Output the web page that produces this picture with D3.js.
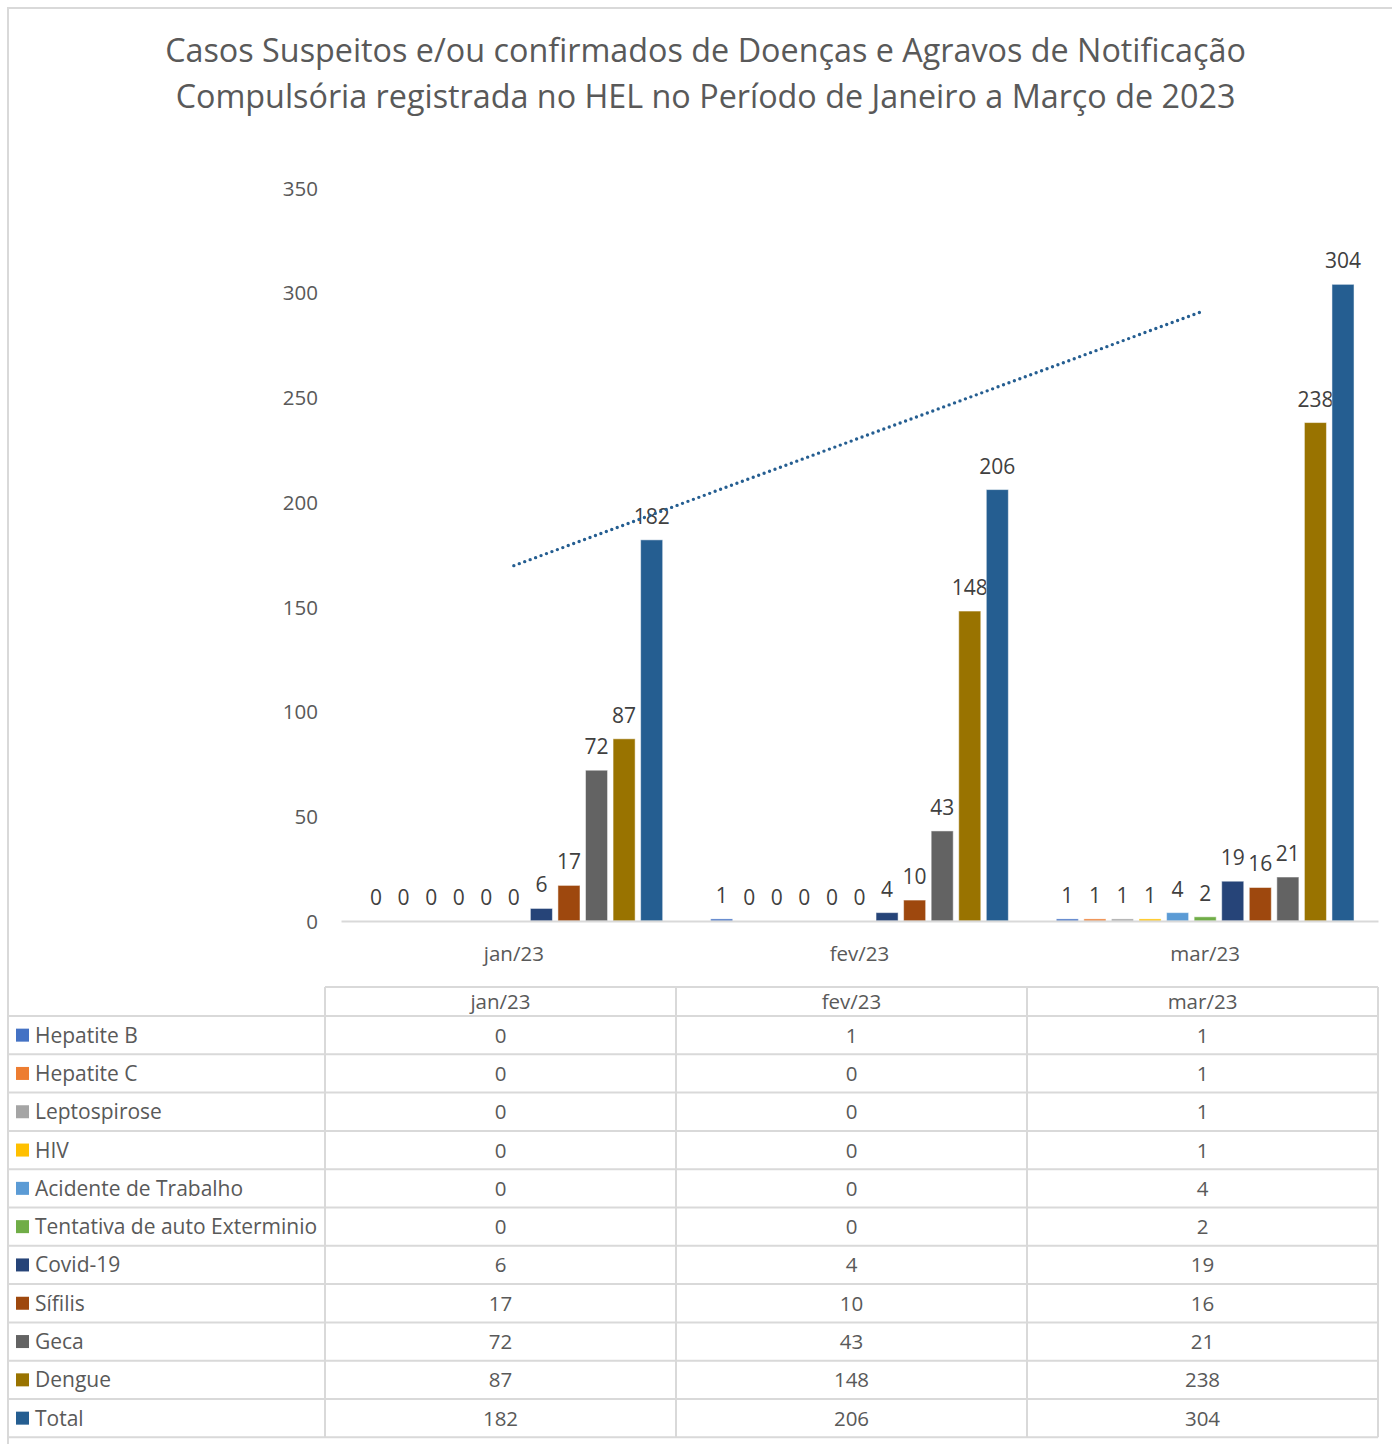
<!DOCTYPE html>
<html><head><meta charset="utf-8">
<script src="https://cdn.jsdelivr.net/npm/d3@7"></script>
<style>html,body{margin:0;padding:0;background:#fff;} svg{display:block;}</style>
</head><body>
<svg id="c" width="1392" height="1444"></svg>
<script>
const titleLines = ["Casos Suspeitos e/ou confirmados de Doenças e Agravos de Notificação",
  "Compulsória registrada no HEL no Período de Janeiro a Março de 2023"];
const categories = ["jan/23", "fev/23", "mar/23"];
const seriesNames = ["Hepatite B","Hepatite C","Leptospirose","HIV","Acidente de Trabalho",
  "Tentativa de auto Exterminio","Covid-19","Sífilis","Geca","Dengue","Total"];
const hepatiteB = [0, 1, 1];
const hepatiteC = [0, 0, 1];
const leptospirose = [0, 0, 1];
const hiv = [0, 0, 1];
const acidenteTrabalho = [0, 0, 4];
const tentativa = [0, 0, 2];
const covid = [6, 4, 19];
const sifilis = [17, 10, 16];
const geca = [72, 43, 21];
const dengue = [87, 148, 238];
const total = [182, 206, 304];
const seriesColors = ["#4472C4","#ED7D31","#A5A5A5","#FFC000","#5B9BD5","#70AD47",
  "#264478","#9E480E","#636363","#997300","#255E91"];
const yTicks = [0, 50, 100, 150, 200, 250, 300, 350];

const seriesValues = [hepatiteB, hepatiteC, leptospirose, hiv, acidenteTrabalho, tentativa,
  covid, sifilis, geca, dengue, total];
const series = seriesNames.map((n, i) => ({name: n, values: seriesValues[i], color: seriesColors[i]}));

const FONT = "'Open Sans', sans-serif";
const svg = d3.select("#c").style("font-family", FONT);

// outer border
svg.append("rect").attr("x", 8).attr("y", 8).attr("width", 1420).attr("height", 1480)
  .attr("fill", "#fff").attr("stroke", "#d9d9d9").attr("stroke-width", 2);

// title: size fitted so that line 1 spans ~1081px
const titleEls = titleLines.map((t, i) => svg.append("text").attr("x", 705.5).attr("y", [62, 108][i])
  .attr("text-anchor", "middle").attr("fill", "#595959").style("font-size", "30px").text(t));
{
  const w = titleEls[0].node().getComputedTextLength();
  const fs = 30 * 1081 / w;
  titleEls.forEach(el => el.style("font-size", fs + "px"));
}

// scales
const x = d3.scaleBand().domain(categories).range([341, 1378]);
const xs = d3.scaleBand().domain(seriesNames).range([0, x.bandwidth()]).paddingInner(0.2).paddingOuter(0.87);
const y = d3.scaleLinear().domain([0, 350]).range([921, 188]);

// y tick labels
const yAxis = d3.axisLeft(y).tickValues(yTicks).tickSize(0).tickPadding(0);
const yg = svg.append("g").attr("transform", "translate(318,0)").call(yAxis);
yg.select(".domain").remove();
yg.selectAll("text").attr("fill", "#595959").style("font-size", "20.5px").style("font-family", FONT)
  .attr("dy", "0.35em");

// bars
const groups = svg.append("g").selectAll("g").data(series).join("g");
groups.selectAll("rect").data(s => s.values.map((v, j) => ({v, cat: categories[j], s})))
  .join("rect")
  .attr("x", d => x(d.cat) + xs(d.s.name))
  .attr("width", xs.bandwidth())
  .attr("y", d => y(d.v))
  .attr("height", d => y(0) - y(d.v))
  .attr("fill", d => d.s.color)
  .attr("stroke", d => d.v > 0 ? "#ffffff" : "none")
  .attr("stroke-opacity", 0.5).attr("stroke-width", 1);

// x axis line
const xAxis = d3.axisBottom(x).tickSize(0).tickPadding(0);
const xg = svg.append("g").attr("transform", `translate(0,${y(0)})`).call(xAxis);
xg.select(".domain").attr("stroke", "#d9d9d9").attr("stroke-width", 2);
xg.selectAll("text").attr("fill", "#595959").style("font-size", "20.5px").style("font-family", FONT)
  .attr("y", 40).attr("dy", 0);

// trendline (linear regression on Total)
const xi = categories.map((_, i) => i + 1);
const mx = d3.mean(xi), my = d3.mean(total);
const slope = d3.sum(xi.map((v, i) => (v - mx) * (total[i] - my))) / d3.sum(xi.map(v => (v - mx) ** 2));
const icpt = my - slope * mx;
const trendPts = categories.map((c, i) => [x(c) + x.bandwidth() / 2, y(icpt + slope * (i + 1))]);
const tEnd = trendPts[trendPts.length - 1];
svg.append("path")
  .attr("d", d3.line()([trendPts[0], [tEnd[0] - 5, tEnd[1] + 2]]))
  .attr("stroke", "#255E91").attr("stroke-width", 3.4).attr("stroke-linecap", "round")
  .attr("stroke-dasharray", "0 5.8").attr("fill", "none");

// data labels
groups.selectAll("text.lbl").data(s => s.values.map((v, j) => ({v, cat: categories[j], s})))
  .join("text").attr("class", "lbl")
  .attr("x", d => x(d.cat) + xs(d.s.name) + xs.bandwidth() / 2)
  .attr("y", d => y(d.v) - 16)
  .attr("text-anchor", "middle").attr("fill", "#404040")
  .style("font-size", "21px").text(d => d.v);

// data table
const tx = d3.scaleBand().domain(categories).range([325, 1378]);
const headerTop = 987, rowTop = 1016, rowH = 38.3;
const tRows = d3.scaleBand().domain(seriesNames).range([rowTop, rowTop + rowH * seriesNames.length]);
const tg = svg.append("g");
const lineColor = "#d9d9d9";
tg.append("line").attr("x1", 325).attr("x2", 1378).attr("y1", headerTop).attr("y2", headerTop)
  .attr("stroke", lineColor).attr("stroke-width", 2);
[325, ...categories.map(c => tx(c) + tx.bandwidth())].forEach(xx => {
  tg.append("line").attr("x1", xx).attr("x2", xx).attr("y1", headerTop).attr("y2", tRows.range()[1])
    .attr("stroke", lineColor).attr("stroke-width", 2);
});
[rowTop, ...seriesNames.map(n => tRows(n) + tRows.bandwidth())].forEach(yy => {
  tg.append("line").attr("x1", 8).attr("x2", 1378).attr("y1", yy).attr("y2", yy)
    .attr("stroke", lineColor).attr("stroke-width", 2);
});
tg.selectAll("text.h").data(categories).join("text").attr("class", "h")
  .attr("x", c => tx(c) + tx.bandwidth() / 2).attr("y", headerTop + 22)
  .attr("text-anchor", "middle").attr("fill", "#595959").style("font-size", "20.5px").text(c => c);
const rg = tg.selectAll("g.row").data(series).join("g").attr("class", "row")
  .attr("transform", s => `translate(0,${tRows(s.name)})`);
rg.append("rect").attr("x", 16).attr("y", rowH / 2 - 6.5).attr("width", 13).attr("height", 13)
  .attr("fill", s => s.color);
rg.append("text").attr("x", 35).attr("y", rowH / 2 + 7.5).attr("fill", "#595959")
  .style("font-size", "21px").text(s => s.name);
rg.selectAll("text.v").data(s => s.values.map((v, j) => ({v, cat: categories[j]})))
  .join("text").attr("class", "v")
  .attr("x", d => tx(d.cat) + tx.bandwidth() / 2).attr("y", rowH / 2 + 7.5)
  .attr("text-anchor", "middle").attr("fill", "#595959").style("font-size", "20.5px").text(d => d.v);
</script>
</body></html>
